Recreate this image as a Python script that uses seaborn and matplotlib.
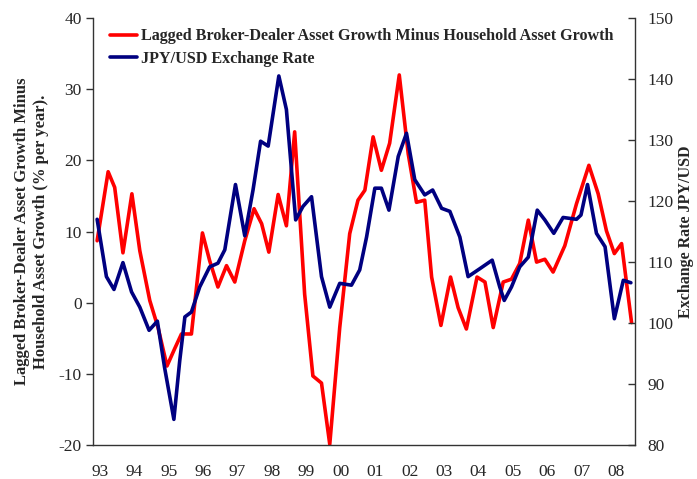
import pandas as pd
import matplotlib
matplotlib.use("Agg")
import matplotlib.pyplot as plt
import seaborn as sns

sns.set_style("white")
plt.rcParams['font.family'] = ['Liberation Serif', 'DejaVu Serif']
plt.rcParams['axes.unicode_minus'] = False

# Lagged broker-dealer asset growth minus household asset growth (% per year)
red_t = [1993.12, 1993.44, 1993.63, 1993.87, 1994.13, 1994.36, 1994.65, 1994.89,
         1995.15, 1995.37, 1995.57, 1995.86, 1996.18, 1996.39, 1996.63, 1996.88,
         1997.12, 1997.41, 1997.68, 1997.90, 1998.11, 1998.38, 1998.62, 1998.86,
         1999.15, 1999.39, 1999.64, 1999.88, 2000.17, 2000.46, 2000.70, 2000.90,
         2001.14, 2001.38, 2001.62, 2001.90, 2002.16, 2002.40, 2002.64, 2002.84,
         2003.11, 2003.39, 2003.61, 2003.85, 2004.16, 2004.39, 2004.63, 2004.92,
         2005.16, 2005.40, 2005.65, 2005.89, 2006.13, 2006.37, 2006.71, 2007.05,
         2007.41, 2007.68, 2007.92, 2008.15, 2008.36, 2008.65]
red_val = [8.7, 18.4, 16.2, 7.0, 15.3, 7.3, 0.3, -3.5,
           -8.9, -6.5, -4.4, -4.4, 9.8, 5.9, 2.2, 5.2,
           2.9, 8.7, 13.2, 11.1, 7.1, 15.2, 10.8, 24.0,
           1.2, -10.3, -11.3, -19.9, -3.5, 9.7, 14.4, 15.8,
           23.3, 18.6, 22.4, 32.0, 20.9, 14.1, 14.4, 3.6,
           -3.2, 3.6, -0.7, -3.7, 3.6, 2.9, -3.5, 2.9,
           3.3, 5.5, 11.6, 5.7, 6.1, 4.3, 8.0, 13.9,
           19.3, 15.3, 10.1, 6.9, 8.3, -2.8]

# JPY/USD exchange rate
blue_t = [1993.12, 1993.39, 1993.61, 1993.87, 1994.12, 1994.36, 1994.63, 1994.87,
          1995.08, 1995.35, 1995.52, 1995.67, 1995.86, 1996.10, 1996.39, 1996.63,
          1996.83, 1997.14, 1997.41, 1997.65, 1997.87, 1998.09, 1998.40, 1998.62,
          1998.89, 1999.10, 1999.35, 1999.64, 1999.88, 2000.17, 2000.51, 2000.75,
          2000.95, 2001.19, 2001.38, 2001.60, 2001.87, 2002.11, 2002.35, 2002.64,
          2002.87, 2003.13, 2003.37, 2003.66, 2003.90, 2004.24, 2004.60, 2004.82,
          2004.95, 2005.16, 2005.40, 2005.65, 2005.91, 2006.13, 2006.39, 2006.66,
          2007.05, 2007.18, 2007.37, 2007.63, 2007.88, 2008.15, 2008.41, 2008.63]
blue_val = [117.0, 107.6, 105.5, 109.9, 105.1, 102.6, 98.8, 100.3,
            92.7, 84.2, 93.8, 101.0, 101.8, 105.9, 109.2, 109.8,
            112.0, 122.7, 114.3, 121.8, 129.8, 129.0, 140.5, 135.0,
            116.9, 119.1, 120.7, 107.6, 102.6, 106.5, 106.2, 108.7,
            114.1, 122.1, 122.1, 118.5, 127.3, 131.1, 123.5, 121.0,
            121.8, 118.8, 118.3, 114.1, 107.6, 108.9, 110.3, 105.9,
            103.7, 105.9, 109.2, 110.8, 118.5, 116.9, 114.7, 117.3,
            117.0, 117.7, 122.7, 114.7, 112.5, 100.7, 107.0, 106.6]

years = list(range(1993, 2009))
year_labels = ["93", "94", "95", "96", "97", "98", "99", "00",
               "01", "02", "03", "04", "05", "06", "07", "08"]

red_name = "Lagged Broker-Dealer Asset Growth Minus Household Asset Growth"
blue_name = "JPY/USD Exchange Rate"

df_red = pd.DataFrame({"t": red_t, "v": red_val})
df_blue = pd.DataFrame({"t": blue_t, "v": blue_val})

fig = plt.figure(figsize=(6.97, 4.79), dpi=100)
ax = fig.add_axes([93 / 697, 1 - 445 / 479, (635 - 93) / 697, (445 - 18) / 479])
ax2 = ax.twinx()

sns.lineplot(data=df_red, x="t", y="v", ax=ax, color="#FF0000", lw=2.6, label=red_name, legend=False)
sns.lineplot(data=df_blue, x="t", y="v", ax=ax2, color="#000080", lw=2.6, label=blue_name, legend=False)
for a in (ax, ax2):
    for ln in a.get_lines():
        ln.set_solid_joinstyle("round")

ax.set_xlim(1993, 2008.75)
ax.set_ylim(-20, 40)
ax2.set_ylim(80, 150)
ax.set_yticks(range(-20, 41, 10))
ax2.set_yticks(range(80, 151, 10))

# tick marks at year boundaries, labels shifted a little to the right
ax.set_xticks(years, minor=True)
ax.set_xticks([y + 0.2 for y in years])
ax.set_xticklabels(year_labels)
ax.tick_params(axis="x", which="major", length=0, pad=14, labelsize=12.5)
ax.tick_params(axis="x", which="minor", length=5, width=1, color="#333333", direction="out")
ax.tick_params(axis="y", length=5, width=1, color="#333333", direction="out", left=True, labelsize=12.5, pad=3)
ax2.tick_params(axis="y", length=5, width=1, color="#333333", direction="in", right=True, labelsize=12.5, pad=9)

for a in (ax, ax2):
    a.spines["top"].set_visible(False)
    for s in ("left", "right", "bottom"):
        a.spines[s].set_color("#333333")
        a.spines[s].set_linewidth(1)
ax.spines["right"].set_visible(False)
ax2.spines["left"].set_visible(False)
ax2.spines["bottom"].set_visible(False)
ax.grid(False)
ax2.grid(False)

ax.set_xlabel("")
ax.set_ylabel("Lagged Broker-Dealer Asset Growth Minus\nHousehold Asset Growth (% per year).",
              fontsize=12, fontweight="bold", labelpad=7, linespacing=1.25)
ax2.set_ylabel("Exchange Rate JPY/USD", fontsize=11.5, fontweight="bold", labelpad=3)

h1, l1 = ax.get_legend_handles_labels()
h2, l2 = ax2.get_legend_handles_labels()
leg = ax2.legend(h1 + h2, l1 + l2, loc="upper left", bbox_to_anchor=(0.012, 1.0),
                 frameon=False, prop={"size": 11.6, "weight": "bold"},
                 handlelength=1.7, handletextpad=0.25, labelspacing=0.4, borderaxespad=0.25)

fig.savefig("out.png", dpi=100)
